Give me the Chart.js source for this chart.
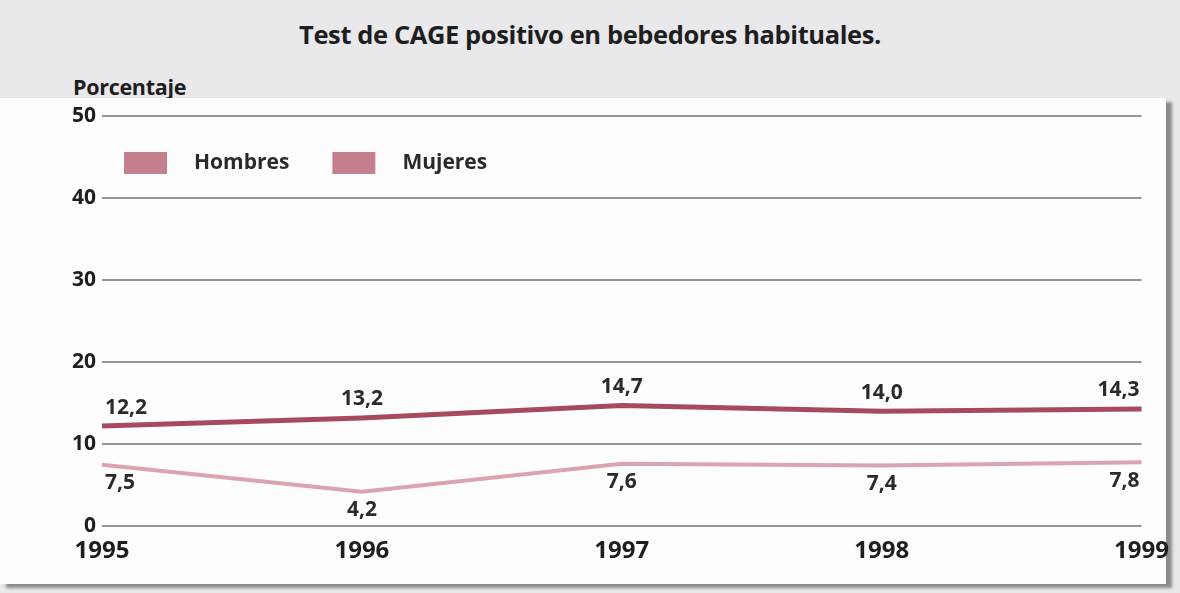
<!DOCTYPE html>
<html>
<head>
<meta charset="utf-8">
<script src="https://cdn.jsdelivr.net/npm/chart.js@4"></script>
<style>
  body { margin: 0; background: #e9e9ec; width: 1180px; height: 593px; overflow: hidden; position: relative; font-family: "Open Sans", sans-serif; }
  #title { position: absolute; top: 17px; left: 0; width: 1180px; text-align: center; font-weight: 700; font-size: 25.5px; color: #1e1e1e; letter-spacing: -0.4px; }
  #ylab { position: absolute; top: 72px; left: 73px; font-weight: 700; font-size: 21.5px; color: #1e1e1e; letter-spacing: -0.3px; }
  #panel { position: absolute; top: 98px; left: 0; width: 1166px; height: 486px; background: #fdfdfd; box-shadow: 6px 4px 3px #8a8a8a; }
  #wrap { position: absolute; top: 0; left: 0; width: 1180px; height: 593px; }
</style>
</head>
<body>
<div id="title">Test de CAGE positivo en bebedores habituales.</div>
<div id="ylab">Porcentaje</div>
<div id="panel"></div>
<div id="wrap"><canvas id="chart"></canvas></div>
<script>
// Data
const years = ['1995', '1996', '1997', '1998', '1999'];
const hombres = [12.2, 13.2, 14.7, 14.0, 14.3];
const mujeres = [7.5, 4.2, 7.6, 7.4, 7.8];
const seriesNames = ['Hombres', 'Mujeres'];

const swatchColor = '#c47f8c';

// value labels: above for the upper line, below for the lower one
const valueLabels = {
  id: 'valueLabels',
  afterDatasetsDraw(chart) {
    const ctx = chart.ctx;
    ctx.save();
    ctx.font = 'bold 21px "Open Sans"';
    ctx.fillStyle = '#2a2a2a';
    chart.data.datasets.forEach((ds, i) => {
      const meta = chart.getDatasetMeta(i);
      meta.data.forEach((pt, j) => {
        const last = meta.data.length - 1;
        ctx.textAlign = j === 0 ? 'left' : (j === last ? 'right' : 'center');
        const dx = j === 0 ? 3 : (j === last ? -2 : 0);
        ctx.textBaseline = i === 0 ? 'bottom' : 'top';
        const dy = i === 0 ? -8 : 8;
        ctx.fillText(ds.data[j].toFixed(1).replace('.', ','), pt.x + dx, pt.y + dy);
      });
    });
    ctx.restore();
  }
};

// legend drawn inside the plot area
const innerLegend = {
  id: 'innerLegend',
  afterDraw(chart) {
    const ctx = chart.ctx;
    const area = chart.chartArea;
    ctx.save();
    ctx.font = 'bold 21px "Open Sans"';
    ctx.textBaseline = 'middle';
    let x = area.left + 22;
    const y = area.top + 36;
    chart.data.datasets.forEach(ds => {
      ctx.fillStyle = swatchColor;
      ctx.fillRect(x, y, 43, 22);
      ctx.fillStyle = '#2a2a2a';
      ctx.textAlign = 'left';
      ctx.fillText(ds.label, x + 70, y + 11);
      x += 70 + ctx.measureText(ds.label).width + 43;
    });
    ctx.restore();
  }
};

const ctx = document.getElementById('chart').getContext('2d');
new Chart(ctx, {
  type: 'line',
  data: {
    labels: years,
    datasets: [{
      label: seriesNames[0],
      data: hombres,
      borderColor: '#a84a5f',
      borderWidth: 5,
      pointRadius: 0,
      tension: 0
    }, {
      label: seriesNames[1],
      data: mujeres,
      borderColor: '#dca3b1',
      borderWidth: 4,
      pointRadius: 0,
      tension: 0
    }]
  },
  options: {
    responsive: true,
    maintainAspectRatio: false,
    animation: false,
    layout: { padding: { left: 66, right: 30, top: 116, bottom: 16 } },
    plugins: {
      legend: { display: false },
      tooltip: { enabled: false }
    },
    scales: {
      x: {
        offset: false,
        grid: { display: false, drawTicks: false },
        border: { display: false },
        ticks: { color: '#1e1e1e', font: { family: 'Open Sans', size: 24, weight: 'bold' }, padding: 11, maxRotation: 0 }
      },
      y: {
        min: 0,
        max: 50,
        ticks: { stepSize: 10, color: '#1e1e1e', font: { family: 'Open Sans', size: 21, weight: 'bold' }, padding: 6 },
        grid: { color: '#949494', lineWidth: 2, drawTicks: false },
        border: { display: false }
      }
    }
  },
  plugins: [valueLabels, innerLegend]
});
</script>
</body>
</html>
